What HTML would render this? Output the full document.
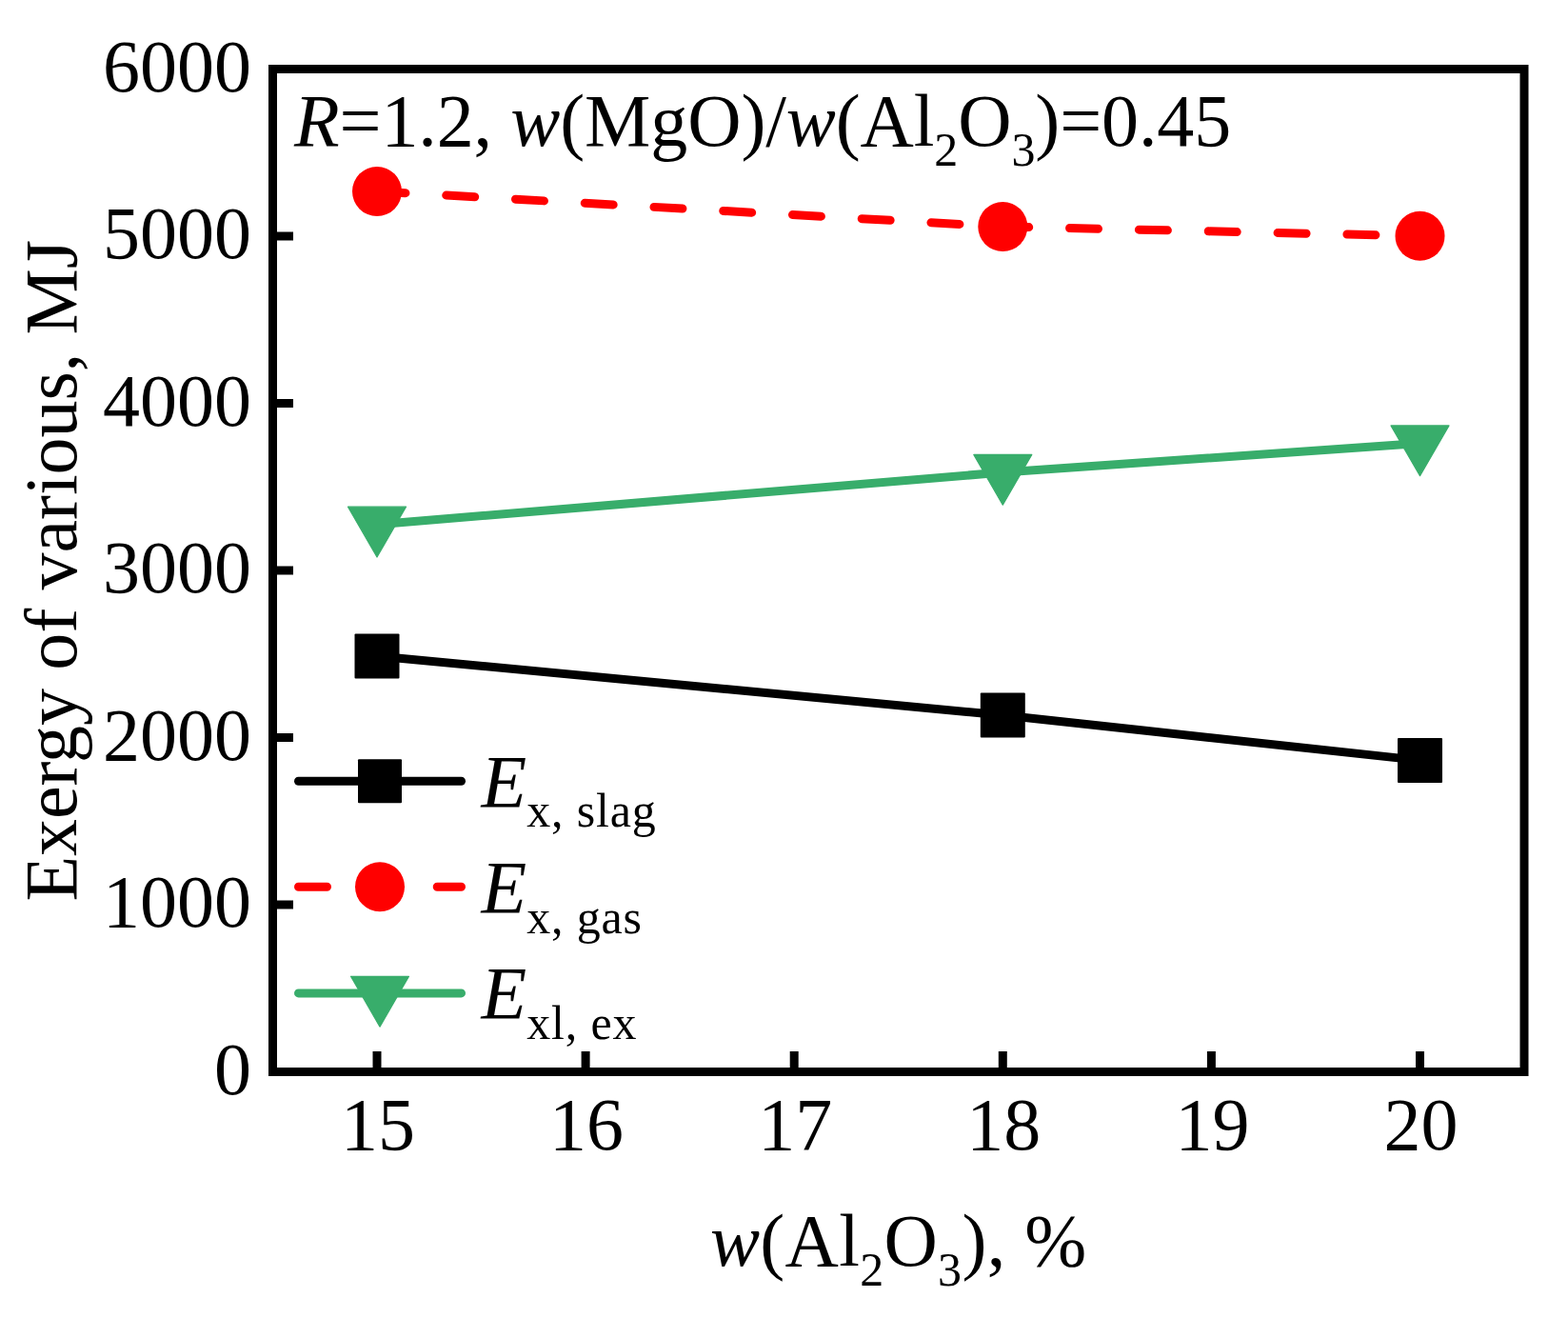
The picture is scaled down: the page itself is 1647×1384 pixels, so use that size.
<!DOCTYPE html><html><head><meta charset="utf-8"><style>html,body{margin:0;padding:0;background:#fff;}svg{display:block;}text{font-family:"Liberation Serif","Times New Roman",serif;fill:#000;}</style></head><body>
<svg width="1647" height="1384" viewBox="0 0 1647 1384">
<rect x="0" y="0" width="1647" height="1384" fill="#fff"/>
<polyline points="396.0,689.0 1053.3,751.0 1491.5,798.4" fill="none" stroke="#000" stroke-width="9" stroke-linejoin="round"/>
<polyline points="396.0,550.8 1053.3,496.0 1491.5,465.5" fill="none" stroke="#38AD6B" stroke-width="9" stroke-linejoin="round"/>
<polyline points="396.0,201.0 1053.3,238.0 1491.5,247.8" fill="none" stroke="#FF0000" stroke-width="9" stroke-linecap="round" stroke-linejoin="round" stroke-dasharray="30 42.86"/>
<rect x="372.5" y="665.5" width="47" height="47" rx="1" fill="#000"/>
<rect x="1029.8" y="727.5" width="47" height="47" rx="1" fill="#000"/>
<rect x="1468.0" y="774.9" width="47" height="47" rx="1" fill="#000"/>
<circle cx="396.0" cy="201.0" r="26" fill="#FF0000"/>
<circle cx="1053.3" cy="238.0" r="26" fill="#FF0000"/>
<circle cx="1491.5" cy="247.8" r="26" fill="#FF0000"/>
<polygon points="365.5,532.2 426.5,532.2 396.0,585.0" fill="#38AD6B" stroke="#38AD6B" stroke-width="1.2" stroke-linejoin="round"/>
<polygon points="1022.8,477.4 1083.8,477.4 1053.3,530.2" fill="#38AD6B" stroke="#38AD6B" stroke-width="1.2" stroke-linejoin="round"/>
<polygon points="1461.0,446.9 1522.0,446.9 1491.5,499.7" fill="#38AD6B" stroke="#38AD6B" stroke-width="1.2" stroke-linejoin="round"/>
<rect x="286.5" y="72.5" width="1314.5" height="1053.0" fill="none" stroke="#000" stroke-width="9"/>
<line x1="396.0" y1="1125.5" x2="396.0" y2="1104.0" stroke="#000" stroke-width="9"/>
<text x="397.0" y="1207" font-size="78" text-anchor="middle">15</text>
<line x1="615.1" y1="1125.5" x2="615.1" y2="1104.0" stroke="#000" stroke-width="9"/>
<text x="616.1" y="1207" font-size="78" text-anchor="middle">16</text>
<line x1="834.2" y1="1125.5" x2="834.2" y2="1104.0" stroke="#000" stroke-width="9"/>
<text x="835.2" y="1207" font-size="78" text-anchor="middle">17</text>
<line x1="1053.3" y1="1125.5" x2="1053.3" y2="1104.0" stroke="#000" stroke-width="9"/>
<text x="1054.3" y="1207" font-size="78" text-anchor="middle">18</text>
<line x1="1272.4" y1="1125.5" x2="1272.4" y2="1104.0" stroke="#000" stroke-width="9"/>
<text x="1273.4" y="1207" font-size="78" text-anchor="middle">19</text>
<line x1="1491.5" y1="1125.5" x2="1491.5" y2="1104.0" stroke="#000" stroke-width="9"/>
<text x="1492.5" y="1207" font-size="78" text-anchor="middle">20</text>
<text x="264" y="1148.5" font-size="78" text-anchor="end">0</text>
<line x1="286.5" y1="950.0" x2="308.0" y2="950.0" stroke="#000" stroke-width="9"/>
<text x="264" y="973.0" font-size="78" text-anchor="end">1000</text>
<line x1="286.5" y1="774.5" x2="308.0" y2="774.5" stroke="#000" stroke-width="9"/>
<text x="264" y="797.5" font-size="78" text-anchor="end">2000</text>
<line x1="286.5" y1="599.0" x2="308.0" y2="599.0" stroke="#000" stroke-width="9"/>
<text x="264" y="622.0" font-size="78" text-anchor="end">3000</text>
<line x1="286.5" y1="423.5" x2="308.0" y2="423.5" stroke="#000" stroke-width="9"/>
<text x="264" y="446.5" font-size="78" text-anchor="end">4000</text>
<line x1="286.5" y1="248.0" x2="308.0" y2="248.0" stroke="#000" stroke-width="9"/>
<text x="264" y="271.0" font-size="78" text-anchor="end">5000</text>
<text x="264" y="95.5" font-size="78" text-anchor="end">6000</text>
<text x="309" y="153" font-size="78" letter-spacing="-0.12"><tspan font-style="italic">R</tspan>=1.2, <tspan font-style="italic">w</tspan>(MgO)/<tspan font-style="italic">w</tspan>(Al<tspan font-size="50" dy="21">2</tspan><tspan dy="-21">O</tspan><tspan font-size="50" dy="21">3</tspan><tspan dy="-21">)=0.45</tspan></text>
<text x="943.75" y="1329" font-size="78" text-anchor="middle" letter-spacing="0.3"><tspan font-style="italic">w</tspan>(Al<tspan font-size="50" dy="21">2</tspan><tspan dy="-21">O</tspan><tspan font-size="50" dy="21">3</tspan><tspan dy="-21">), %</tspan></text>
<text transform="translate(79.6,599.2) rotate(-90)" x="0" y="0" font-size="78" text-anchor="middle" letter-spacing="-0.07">Exergy of various, MJ</text>
<line x1="313.5" y1="820.2" x2="484.5" y2="820.2" stroke="#000" stroke-width="9" stroke-linecap="round"/>
<rect x="376.0" y="797.2" width="46" height="46" rx="1" fill="#000"/>
<line x1="313.5" y1="931.2" x2="484.5" y2="931.2" stroke="#FF0000" stroke-width="9" stroke-linecap="round" stroke-dasharray="30 42.86"/>
<circle cx="399.0" cy="931.2" r="26" fill="#FF0000"/>
<line x1="313.5" y1="1042.9" x2="484.5" y2="1042.9" stroke="#38AD6B" stroke-width="9" stroke-linecap="round"/>
<polygon points="368.5,1025.3 429.5,1025.3 399.0,1078.1" fill="#38AD6B" stroke="#38AD6B" stroke-width="1.2" stroke-linejoin="round"/>
<text x="505.5" y="846.5" font-size="78"><tspan font-style="italic">E</tspan><tspan font-size="50" dy="21.7" letter-spacing="0.85">x, slag</tspan></text>
<text x="505.5" y="958.2" font-size="78"><tspan font-style="italic">E</tspan><tspan font-size="50" dy="21.7" letter-spacing="0.85">x, gas</tspan></text>
<text x="505.5" y="1069.3" font-size="78"><tspan font-style="italic">E</tspan><tspan font-size="50" dy="21.7" letter-spacing="0.85">xl, ex</tspan></text>
</svg></body></html>
